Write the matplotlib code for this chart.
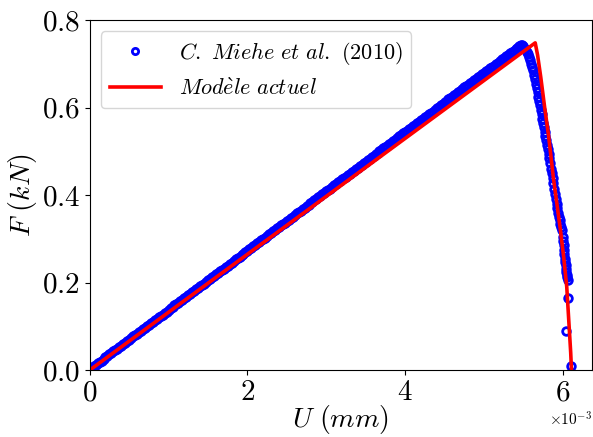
import numpy as np
import matplotlib
matplotlib.use("Agg")
import matplotlib.pyplot as plt

plt.rcParams.update({
    "font.family": "serif",
    "font.serif": ["cmr10"],
    "mathtext.fontset": "cm",
    "axes.formatter.use_mathtext": True,
    "axes.unicode_minus": False,
})

# Miehe et al. (2010) reference points, U in 1e-3 mm, F in kN
# loading branch
u_load = [0.000, 0.025, 0.050, 0.075, 0.100, 0.125, 0.150, 0.175, 0.200, 0.225,
          0.250, 0.275, 0.300, 0.325, 0.350, 0.375, 0.400, 0.425, 0.450, 0.475,
          0.500, 0.525, 0.550, 0.575, 0.600, 0.625, 0.650, 0.675, 0.700, 0.725,
          0.750, 0.775, 0.800, 0.825, 0.850, 0.875, 0.900, 0.925, 0.950, 0.975,
          1.000, 1.025, 1.050, 1.075, 1.100, 1.125, 1.150, 1.175, 1.200, 1.225,
          1.250, 1.275, 1.300, 1.325, 1.350, 1.375, 1.400, 1.425, 1.450, 1.475,
          1.500, 1.525, 1.550, 1.575, 1.600, 1.625, 1.650, 1.675, 1.700, 1.725,
          1.750, 1.775, 1.800, 1.825, 1.850, 1.875, 1.900, 1.925, 1.950, 1.975,
          2.000, 2.025, 2.050, 2.075, 2.100, 2.125, 2.150, 2.175, 2.200, 2.225,
          2.250, 2.275, 2.300, 2.325, 2.350, 2.375, 2.400, 2.425, 2.450, 2.475,
          2.500, 2.525, 2.550, 2.575, 2.600, 2.625, 2.650, 2.675, 2.700, 2.725,
          2.750, 2.775, 2.800, 2.825, 2.850, 2.875, 2.900, 2.925, 2.950, 2.975,
          3.000, 3.025, 3.050, 3.075, 3.100, 3.125, 3.150, 3.175, 3.200, 3.225,
          3.250, 3.275, 3.300, 3.325, 3.350, 3.375, 3.400, 3.425, 3.450, 3.475,
          3.500, 3.525, 3.550, 3.575, 3.600, 3.625, 3.650, 3.675, 3.700, 3.725,
          3.750, 3.775, 3.800, 3.825, 3.850, 3.875, 3.900, 3.925, 3.950, 3.975,
          4.000, 4.025, 4.050, 4.075, 4.100, 4.125, 4.150, 4.175, 4.200, 4.225,
          4.250, 4.275, 4.300, 4.325, 4.350, 4.375, 4.400, 4.425, 4.450, 4.475,
          4.500, 4.525, 4.550, 4.575, 4.600, 4.625, 4.650, 4.675, 4.700, 4.725,
          4.750, 4.775, 4.800, 4.825, 4.850, 4.875, 4.900, 4.925, 4.950, 4.975,
          5.000, 5.025, 5.050, 5.075, 5.100, 5.125, 5.150, 5.175, 5.200, 5.225,
          5.250, 5.275, 5.300, 5.325, 5.350, 5.375, 5.400, 5.425, 5.450]
f_load = [0.002, 0.005, 0.009, 0.012, 0.016, 0.019, 0.022, 0.026, 0.029, 0.032,
          0.036, 0.039, 0.043, 0.046, 0.049, 0.053, 0.056, 0.060, 0.063, 0.066,
          0.070, 0.073, 0.077, 0.080, 0.083, 0.087, 0.090, 0.093, 0.097, 0.100,
          0.104, 0.107, 0.110, 0.114, 0.117, 0.121, 0.124, 0.127, 0.131, 0.134,
          0.138, 0.141, 0.144, 0.148, 0.151, 0.154, 0.158, 0.161, 0.165, 0.168,
          0.171, 0.175, 0.178, 0.182, 0.185, 0.188, 0.192, 0.195, 0.198, 0.202,
          0.205, 0.209, 0.212, 0.215, 0.219, 0.222, 0.226, 0.229, 0.232, 0.236,
          0.239, 0.243, 0.246, 0.249, 0.253, 0.256, 0.259, 0.263, 0.266, 0.270,
          0.273, 0.276, 0.280, 0.283, 0.287, 0.290, 0.293, 0.297, 0.300, 0.303,
          0.307, 0.310, 0.314, 0.317, 0.320, 0.324, 0.327, 0.331, 0.334, 0.337,
          0.341, 0.344, 0.348, 0.351, 0.354, 0.358, 0.361, 0.364, 0.368, 0.371,
          0.375, 0.378, 0.381, 0.385, 0.388, 0.392, 0.395, 0.398, 0.402, 0.405,
          0.409, 0.412, 0.415, 0.419, 0.422, 0.425, 0.429, 0.432, 0.436, 0.439,
          0.442, 0.446, 0.449, 0.453, 0.456, 0.459, 0.463, 0.466, 0.469, 0.473,
          0.476, 0.480, 0.483, 0.486, 0.490, 0.493, 0.497, 0.500, 0.503, 0.507,
          0.510, 0.513, 0.517, 0.520, 0.524, 0.527, 0.530, 0.534, 0.537, 0.541,
          0.544, 0.547, 0.551, 0.554, 0.558, 0.561, 0.564, 0.568, 0.571, 0.575,
          0.578, 0.581, 0.585, 0.588, 0.591, 0.595, 0.598, 0.602, 0.605, 0.608,
          0.612, 0.615, 0.619, 0.622, 0.625, 0.629, 0.632, 0.635, 0.639, 0.642,
          0.646, 0.649, 0.652, 0.656, 0.659, 0.663, 0.666, 0.669, 0.673, 0.676,
          0.680, 0.683, 0.686, 0.690, 0.693, 0.696, 0.700, 0.703, 0.707, 0.710,
          0.713, 0.717, 0.720, 0.724, 0.727, 0.730, 0.734, 0.737, 0.740]
# softening branch
u_soft = [5.465, 5.480, 5.495, 5.510, 5.525, 5.540, 5.555, 5.570, 5.585, 5.600,
          5.610, 5.620, 5.635, 5.650, 5.660, 5.670, 5.680, 5.690, 5.700, 5.710,
          5.720, 5.730, 5.740, 5.750, 5.760, 5.770, 5.780, 5.790, 5.800, 5.810,
          5.820, 5.830, 5.840, 5.850, 5.860, 5.870, 5.880, 5.890, 5.900, 5.910,
          5.920, 5.930, 5.940, 5.950, 5.960, 5.970, 5.980, 5.990, 6.000, 6.005,
          6.010, 6.015, 6.020, 6.025, 6.030, 6.035, 6.040, 6.045, 6.050, 6.055,
          6.060, 6.060, 6.040, 6.110]
f_soft = [0.742, 0.742, 0.740, 0.737, 0.733, 0.728, 0.722, 0.715, 0.708, 0.700,
          0.693, 0.685, 0.675, 0.665, 0.655, 0.645, 0.635, 0.625, 0.615, 0.605,
          0.595, 0.585, 0.575, 0.565, 0.555, 0.545, 0.535, 0.525, 0.515, 0.505,
          0.495, 0.485, 0.473, 0.460, 0.450, 0.440, 0.428, 0.415, 0.403, 0.390,
          0.380, 0.370, 0.360, 0.350, 0.342, 0.335, 0.328, 0.320, 0.305, 0.295,
          0.285, 0.275, 0.265, 0.255, 0.247, 0.240, 0.232, 0.225, 0.218, 0.212,
          0.205, 0.165, 0.089, 0.009]

# current model curve
u_mod = [0.00, 5.65, 5.68, 5.72, 5.77, 5.82, 5.88, 5.94, 5.97, 6.01, 6.05, 6.08, 6.10, 6.11]
f_mod = [0.000, 0.748, 0.720, 0.670, 0.600, 0.535, 0.440, 0.360, 0.320, 0.260, 0.190, 0.100, 0.040, 0.000]

u_ref = np.array(u_load + u_soft) * 1e-3
f_ref = np.array(f_load + f_soft)

fig = plt.figure(figsize=(5.93, 4.37), dpi=100)
ax = fig.add_axes([0.1513, 0.153, 0.847, 0.801])

ax.plot(u_ref, f_ref, "o", mfc="none", mec="blue", mew=2.0, ms=5.5,
        label=r"$C.\ Miehe\ et\ al.$ (2010)")
ax.plot(np.array(u_mod) * 1e-3, f_mod, "-", color="red", lw=2.6,
        label=r"$Mod\grave{e}le\ actuel$")

ax.set_xlim(0, 6.37e-3)
ax.set_ylim(0, 0.8)
ax.set_xticks([0, 2e-3, 4e-3, 6e-3])
ax.set_yticks([0, 0.2, 0.4, 0.6, 0.8])
ax.ticklabel_format(axis="x", style="sci", scilimits=(0, 0))
ax.tick_params(labelsize=21)
ax.xaxis.get_offset_text().set_fontsize(11)
ax.set_xlabel(r"$U\ (mm)$", fontsize=20, labelpad=-2)
ax.set_ylabel(r"$F\ (kN)$", fontsize=20, labelpad=2)

leg = ax.legend(loc="upper left", fontsize=16, handlelength=2.3)
for h in leg.legend_handles:
    if h.get_marker() == "o":
        h.set_markersize(4.5)

fig.savefig("out.png", dpi=100)
